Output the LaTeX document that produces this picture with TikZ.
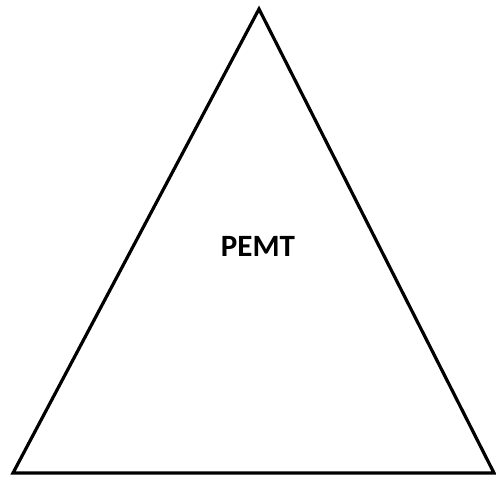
\documentclass[tikz,border=0pt]{standalone}
\usepackage{fontspec}
\setmainfont{Carlito}
\usetikzlibrary{positioning}

\begin{document}
\begin{tikzpicture}[
    x=1pt, y=-1pt,
    side/.style={draw=black, line width=3.2pt, line join=miter},
    label/.style={font=\bfseries\fontsize{31}{36}\selectfont, inner sep=0pt}
]
\useasboundingbox (0,0) rectangle (496,479);

% Corners
\coordinate (apex) at (259,9);
\coordinate (left) at (13,473);
\coordinate (right) at (494,473);

% Triangle
\draw [side] (apex) -- (right) -- (left) -- cycle;

% Label
\node (pemt) [label] at (258,246) {PEMT};

\end{tikzpicture}
\end{document}
